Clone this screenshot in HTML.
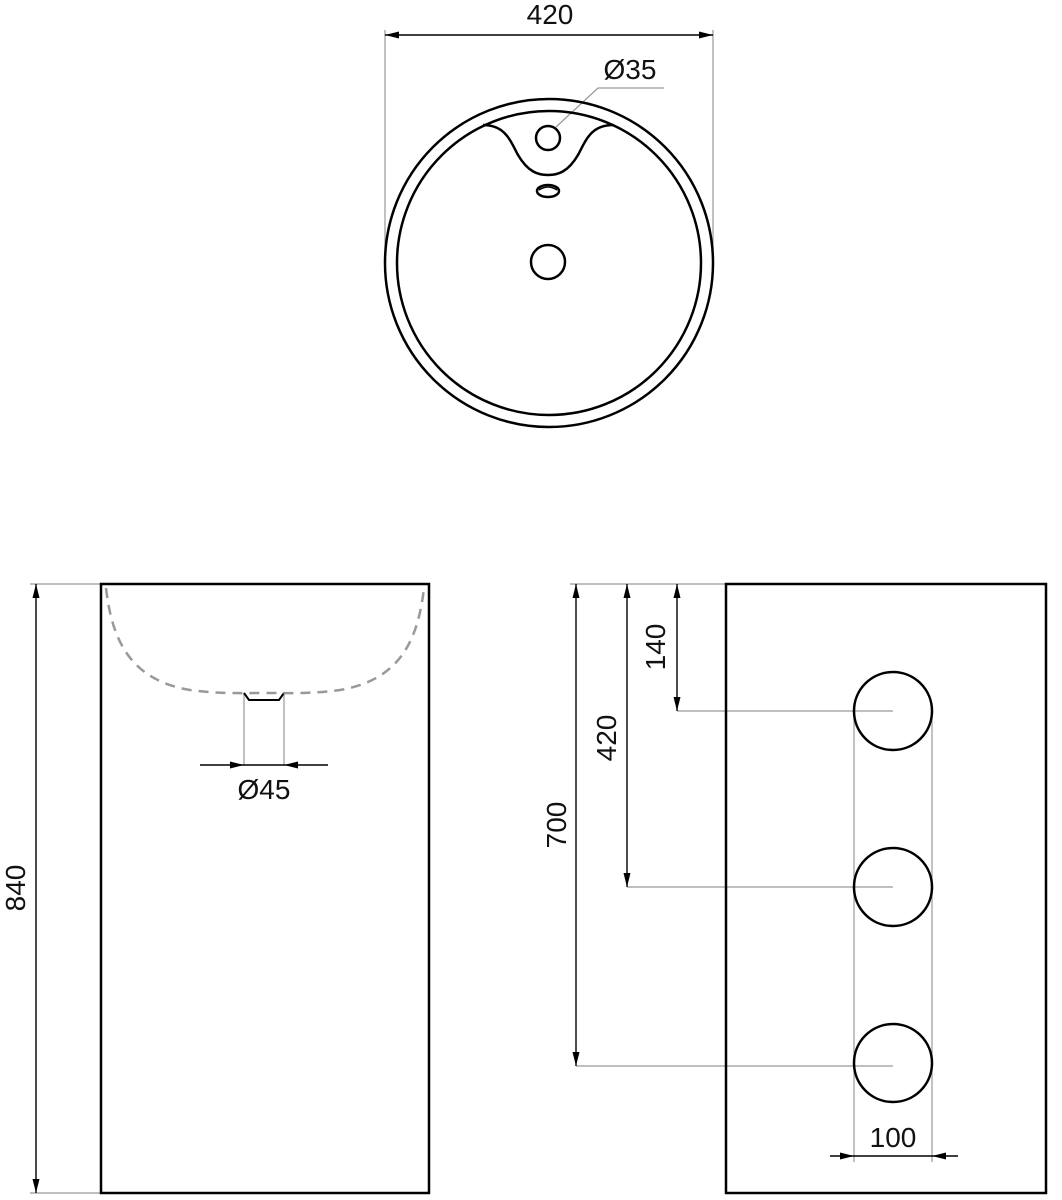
<!DOCTYPE html>
<html><head><style>body{margin:0;background:#fff}svg{display:block}text{font-family:"Liberation Sans",sans-serif;fill:#111}</style></head>
<body>
<svg width="1062" height="1200" viewBox="0 0 1062 1200" xmlns="http://www.w3.org/2000/svg">
<defs>
<marker id="a" viewBox="0 0 14 7" refX="14" refY="3.5" markerWidth="14" markerHeight="7" orient="auto-start-reverse" markerUnits="userSpaceOnUse"><path d="M0,0L14,3.5L0,7z" fill="#000"/></marker>
</defs>
<g fill="none" stroke="#999" stroke-width="1.2">
<line x1="385" y1="30" x2="385" y2="262"/><line x1="713" y1="30" x2="713" y2="262"/>
<polyline points="556,127 598,88 664,88"/>
<line x1="30" y1="584" x2="101" y2="584"/><line x1="30" y1="1193" x2="101" y2="1193"/>
<line x1="244" y1="693" x2="244" y2="765"/><line x1="284" y1="693" x2="284" y2="765"/>
<line x1="570" y1="584" x2="726" y2="584"/>
<line x1="677" y1="711" x2="893" y2="711"/>
<line x1="627" y1="887" x2="893" y2="887"/>
<line x1="576" y1="1066" x2="893" y2="1066"/>
<line x1="854" y1="711" x2="854" y2="1162"/><line x1="932" y1="711" x2="932" y2="1162"/>
</g>
<g fill="none" stroke="#000" stroke-width="1.4">
<line x1="385" y1="35" x2="713" y2="35" marker-start="url(#a)" marker-end="url(#a)"/>
<line x1="36" y1="584" x2="36" y2="1193" marker-start="url(#a)" marker-end="url(#a)"/>
<line x1="200" y1="765" x2="244" y2="765" marker-end="url(#a)"/>
<line x1="328" y1="765" x2="284" y2="765" marker-end="url(#a)"/>
<line x1="244" y1="765" x2="284" y2="765"/>
<line x1="576" y1="584" x2="576" y2="1066" marker-start="url(#a)" marker-end="url(#a)"/>
<line x1="627" y1="584" x2="627" y2="887" marker-start="url(#a)" marker-end="url(#a)"/>
<line x1="677" y1="584" x2="677" y2="711" marker-start="url(#a)" marker-end="url(#a)"/>
<line x1="830" y1="1156" x2="854" y2="1156" marker-end="url(#a)"/>
<line x1="958" y1="1156" x2="932" y2="1156" marker-end="url(#a)"/>
<line x1="854" y1="1156" x2="932" y2="1156"/>
</g>
<g fill="none" stroke="#000" stroke-width="2.5">
<circle cx="549" cy="263" r="164"/>
<circle cx="549" cy="263" r="152"/>
<path d="M483,125 C505,125 510,140 518,155 C528,172 538,175 548,175 C558,175 568,172 578,155 C586,140 591,125 613,125"/>
<circle cx="548" cy="138" r="12"/>
<ellipse cx="548" cy="191" rx="11" ry="6"/>
<path d="M539,190 Q548,184 557,190" stroke-width="1.5"/>
<circle cx="548" cy="262" r="17"/>
<rect x="101" y="584" width="328" height="609"/>
<path d="M244,693 L249,700 L279,700 L284,693" stroke-width="2"/>
<rect x="726" y="584" width="320" height="609"/>
<circle cx="893" cy="711" r="39"/>
<circle cx="893" cy="887" r="39"/>
<circle cx="893" cy="1063" r="39"/>
</g>
<path d="M106,588 C112,640 130,680 190,690 C220,694 240,693 264,693 C290,693 310,694 340,690 C400,680 418,640 424,588" fill="none" stroke="#999" stroke-width="2.5" stroke-dasharray="10,7"/>
<g font-size="28" text-anchor="middle">
<text x="550" y="24">420</text>
<text x="630" y="79">Ø35</text>
<text x="264" y="799">Ø45</text>
<text x="893" y="1147">100</text>
<text transform="translate(25,888) rotate(-90)">840</text>
<text transform="translate(566,825) rotate(-90)">700</text>
<text transform="translate(616,738) rotate(-90)">420</text>
<text transform="translate(665,647) rotate(-90)">140</text>
</g>
</svg>
</body></html>
